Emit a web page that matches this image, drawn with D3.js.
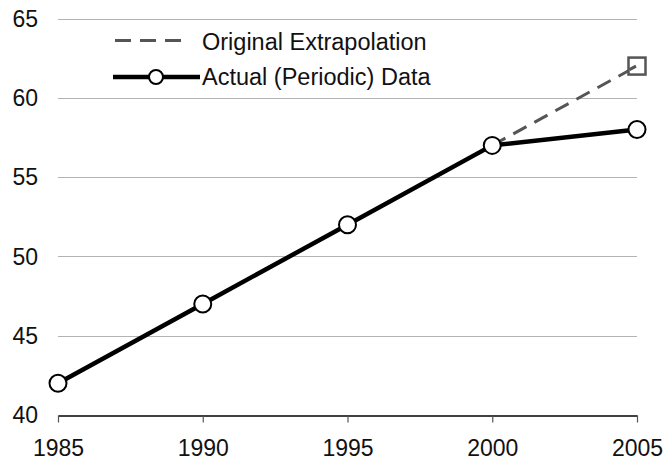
<!DOCTYPE html>
<html>
<head>
<meta charset="utf-8">
<script src="https://cdn.jsdelivr.net/npm/d3@7"></script>
<style>
  html, body { margin: 0; padding: 0; background: #fff; }
  svg { display: block; font-family: "Liberation Sans", Arial, sans-serif; }
</style>
</head>
<body>
<svg id="chart" width="664" height="461"></svg>
<script>
// Years and values
const years = [1985, 1990, 1995, 2000, 2005];
const actualValues = [42, 47, 52, 57, 58];
const extrapolationYears = [2000, 2005];
const extrapolationValues = [57, 62];
const yTicks = [40, 45, 50, 55, 60, 65];
const legendLabels = ["Original Extrapolation", "Actual (Periodic) Data"];

const svg = d3.select("#chart");
const margin = { left: 58, right: 27, top: 18.5, bottom: 46 };
const W = 664, H = 461;
const fontSize = 23;

const x = d3.scaleLinear().domain([1985, 2005]).range([margin.left, W - margin.right]);
const y = d3.scaleLinear().domain([40, 65]).range([H - margin.bottom, margin.top]);

// Horizontal gridlines
svg.append("g")
  .selectAll("line")
  .data(yTicks.filter(d => d > 40))
  .join("line")
  .attr("x1", x(1985)).attr("x2", x(2005))
  .attr("y1", d => Math.round(y(d)) + 0.5).attr("y2", d => Math.round(y(d)) + 0.5)
  .attr("stroke", "#b3b3b3").attr("stroke-width", 1);

// Y labels
svg.append("g")
  .selectAll("text")
  .data(yTicks)
  .join("text")
  .attr("x", 38).attr("y", d => y(d))
  .attr("dy", "0.36em")
  .attr("text-anchor", "end")
  .attr("font-size", fontSize)
  .attr("fill", "#111")
  .text(d => d);

// X axis
const xAxis = d3.axisBottom(x).tickValues(years).tickFormat(d3.format("d")).tickSize(7).tickSizeOuter(0);
const gx = svg.append("g")
  .attr("transform", `translate(0,${Math.round(y(40)) + 0.5})`)
  .call(xAxis);
gx.select(".domain").attr("stroke", "#000").attr("stroke-width", 1.5);
gx.selectAll(".tick line").attr("stroke", "#555").attr("stroke-width", 1.2);
gx.selectAll(".tick text")
  .attr("font-size", fontSize)
  .attr("font-family", "'Liberation Sans', Arial, sans-serif")
  .attr("fill", "#111")
  .attr("y", 32)
  .attr("dy", "0.36em");

// Extrapolation (dashed)
const extra = extrapolationYears.map((yr, i) => ({ yr, v: extrapolationValues[i] }));
svg.append("path")
  .datum(extra)
  .attr("fill", "none")
  .attr("stroke", "#555")
  .attr("stroke-width", 3)
  .attr("stroke-dasharray", "15 9")
  .attr("d", d3.line().x(d => x(d.yr)).y(d => y(d.v)));

const sq = 17;
svg.append("rect")
  .attr("x", x(2005) - sq / 2).attr("y", y(62) - sq / 2)
  .attr("width", sq).attr("height", sq)
  .attr("fill", "#fff").attr("stroke", "#555").attr("stroke-width", 2.5);
// dashed line continues into the square marker
svg.append("line")
  .attr("x1", x(2005) - sq / 2 + 1).attr("y1", y(62) + 3.5)
  .attr("x2", x(2005) - 1).attr("y2", y(62))
  .attr("stroke", "#555").attr("stroke-width", 3);

// Actual data
const actual = years.map((yr, i) => ({ yr, v: actualValues[i] }));
svg.append("path")
  .datum(actual)
  .attr("fill", "none")
  .attr("stroke", "#000")
  .attr("stroke-width", 4.5)
  .attr("d", d3.line().x(d => x(d.yr)).y(d => y(d.v)));

svg.append("g")
  .selectAll("circle")
  .data(actual)
  .join("circle")
  .attr("cx", d => x(d.yr)).attr("cy", d => y(d.v))
  .attr("r", 8.5)
  .attr("fill", "#fff").attr("stroke", "#000").attr("stroke-width", 2);

// Legend
const lg = svg.append("g");
lg.append("line")
  .attr("x1", 115).attr("x2", 189).attr("y1", 40.5).attr("y2", 40.5)
  .attr("stroke", "#555").attr("stroke-width", 3)
  .attr("stroke-dasharray", "16 9");
lg.append("line")
  .attr("x1", 113).attr("x2", 200).attr("y1", 77).attr("y2", 77)
  .attr("stroke", "#000").attr("stroke-width", 4.5);
lg.append("circle")
  .attr("cx", 156).attr("cy", 77).attr("r", 7)
  .attr("fill", "#fff").attr("stroke", "#000").attr("stroke-width", 2);
lg.selectAll("text")
  .data(legendLabels)
  .join("text")
  .attr("x", 202).attr("y", (d, i) => i === 0 ? 42 : 77)
  .attr("dy", "0.36em")
  .attr("font-size", 23.5)
  .attr("fill", "#111")
  .text(d => d);
</script>
</body>
</html>
